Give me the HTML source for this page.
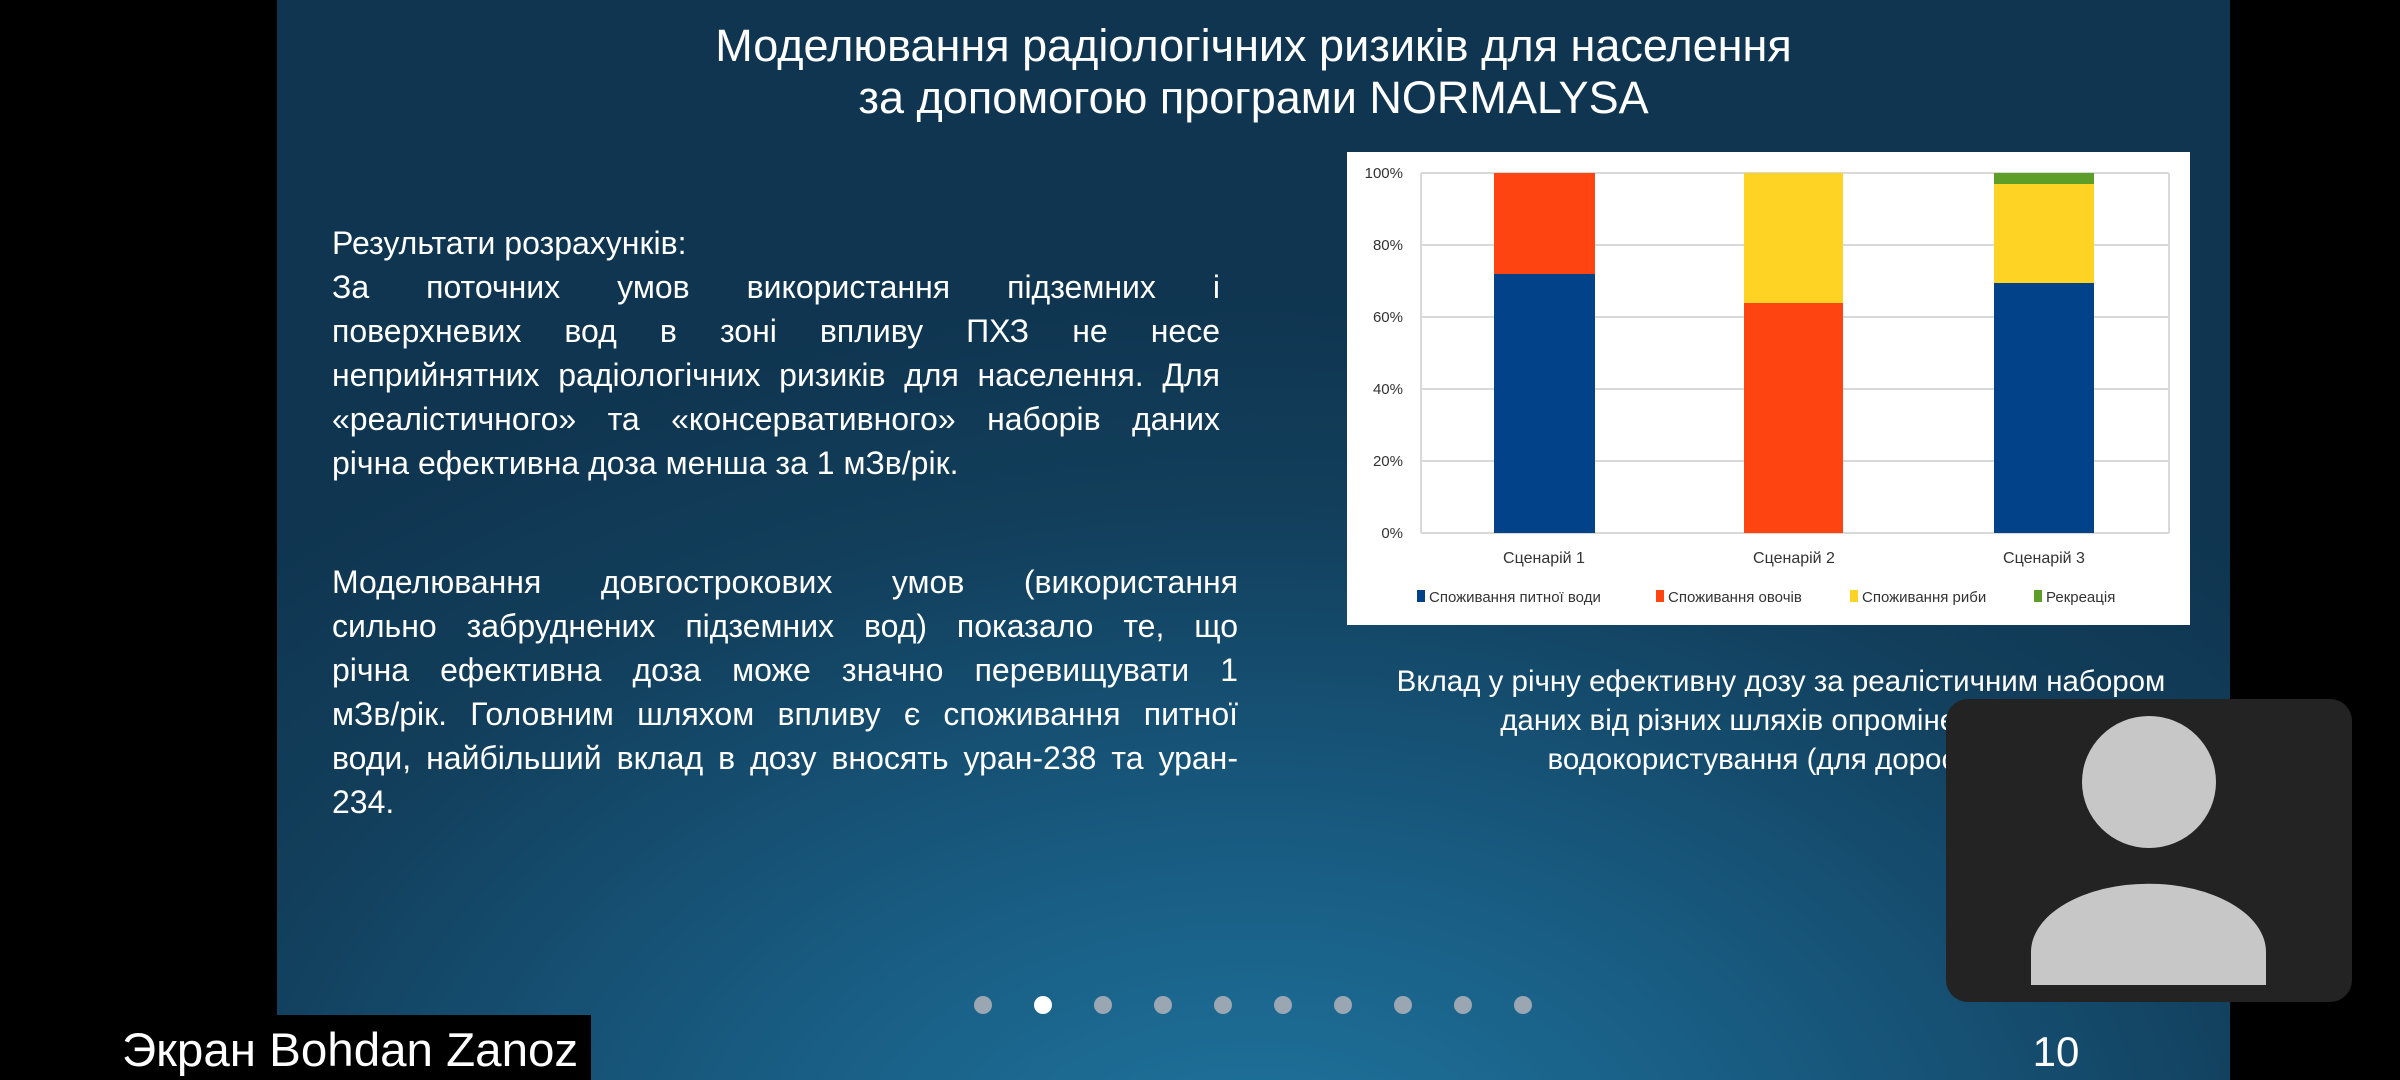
<!DOCTYPE html>
<html><head><meta charset="utf-8"><style>
body{margin:0;width:2400px;height:1080px;background:#000;position:relative;overflow:hidden;font-family:"Liberation Sans","DejaVu Sans",sans-serif;color:#fff}
.slide{position:absolute;left:277px;top:0;width:1953px;height:1080px;background:radial-gradient(ellipse 1400px 900px at 50% 110%,#1f76a0 0%,#185a80 40%,#123f5c 75%,#0f3550 100%)}
.a{position:absolute}
.t{position:absolute;left:277px;width:1953px;text-align:center;font-size:45px;line-height:52px;top:20px}
.p{position:absolute;left:332px;font-size:32px;line-height:44px}
.p div{text-align:justify;text-align-last:justify;white-space:nowrap;height:44px}
.p div.l{text-align-last:left}
.cap{position:absolute;left:1300px;width:962px;text-align:center;font-size:29.5px;line-height:39px;top:662px}
</style></head><body>
<div class="slide"></div>
<div class="t">Моделювання радіологічних ризиків для населення<br>за допомогою програми NORMALYSA</div>
<div class="p" style="top:221px;width:888px">
<div class="l">Результати розрахунків:</div>
<div>За поточних умов використання підземних і</div>
<div>поверхневих вод в зоні впливу ПХЗ не несе</div>
<div>неприйнятних радіологічних ризиків для населення. Для</div>
<div>«реалістичного» та «консервативного» наборів даних</div>
<div class="l">річна ефективна доза менша за 1 мЗв/рік.</div>
</div>
<div class="p" style="top:560px;width:906px">
<div>Моделювання довгострокових умов (використання</div>
<div>сильно забруднених підземних вод) показало те, що</div>
<div>річна ефективна доза може значно перевищувати 1</div>
<div>мЗв/рік. Головним шляхом впливу є споживання питної</div>
<div>води, найбільший вклад в дозу вносять уран-238 та уран-</div>
<div class="l">234.</div>
</div>
<svg class="a" style="left:1347px;top:152px" width="843" height="473" viewBox="1347 152 843 473" font-family="Liberation Sans, sans-serif">
<rect x="1347" y="152" width="843" height="473" fill="#fff"/>
<g stroke="#d9d9d9" stroke-width="2">
<line x1="1421" x2="2169" y1="173" y2="173"/><line x1="1421" x2="2169" y1="245" y2="245"/><line x1="1421" x2="2169" y1="317" y2="317"/><line x1="1421" x2="2169" y1="389" y2="389"/><line x1="1421" x2="2169" y1="461" y2="461"/><line x1="1421" x2="2169" y1="533" y2="533"/><line x1="1421" x2="1421" y1="173" y2="533"/><line x1="2169" x2="2169" y1="173" y2="533"/></g>
<g font-size="15" fill="#333" text-anchor="end"><text x="1403" y="178">100%</text><text x="1403" y="250">80%</text><text x="1403" y="322">60%</text><text x="1403" y="394">40%</text><text x="1403" y="466">20%</text><text x="1403" y="538">0%</text></g>
<rect x="1494" y="274" width="101" height="259" fill="#014289"/><rect x="1494" y="173" width="101" height="101" fill="#fe4511"/>
<rect x="1744" y="303" width="99" height="230" fill="#fe4511"/><rect x="1744" y="173" width="99" height="130" fill="#fed324"/>
<rect x="1994" y="283" width="100" height="250" fill="#014289"/><rect x="1994" y="184" width="100" height="99" fill="#fed324"/><rect x="1994" y="173" width="100" height="11" fill="#5c9e27"/>
<g font-size="16" fill="#333" text-anchor="middle"><text x="1544" y="563">Сценарій 1</text><text x="1794" y="563">Сценарій 2</text><text x="2044" y="563">Сценарій 3</text></g>
<g font-size="15" fill="#333"><rect x="1417" y="590" width="8" height="12" fill="#014289"/><text x="1429" y="602">Споживання питної води</text>
<rect x="1656" y="590" width="8" height="12" fill="#fe4511"/><text x="1668" y="602">Споживання овочів</text>
<rect x="1850" y="590" width="8" height="12" fill="#fed324"/><text x="1862" y="602">Споживання риби</text>
<rect x="2034" y="590" width="8" height="12" fill="#5c9e27"/><text x="2046" y="602">Рекреація</text></g>
</svg>
<div class="cap">Вклад у річну ефективну дозу за реалістичним набором<br>даних від різних шляхів опромінення при<br>водокористування (для дорослих)</div>
<svg class="a" style="left:0;top:0" width="2400" height="1080">
<g fill="#9aa7b2"><circle cx="983" cy="1005" r="9"/><circle cx="1103" cy="1005" r="9"/><circle cx="1163" cy="1005" r="9"/><circle cx="1223" cy="1005" r="9"/><circle cx="1283" cy="1005" r="9"/><circle cx="1343" cy="1005" r="9"/><circle cx="1403" cy="1005" r="9"/><circle cx="1463" cy="1005" r="9"/><circle cx="1523" cy="1005" r="9"/></g>
<circle cx="1043" cy="1005" r="9" fill="#fff"/>
<rect x="1946" y="699" width="406" height="303" rx="22" fill="#232323"/>
<ellipse cx="2149" cy="782" rx="67" ry="66" fill="#c7c7c7"/>
<path d="M2031 985 L2031 952 A117 68 0 0 1 2266 952 L2266 985 Z" fill="#c7c7c7"/>
<rect x="277" y="1015" width="314" height="65" fill="#000"/>
<text x="122" y="1066" font-size="47.5" fill="#fff" font-family="Liberation Sans, sans-serif">Экран Bohdan Zanoz</text>
<text x="2056" y="1066" font-size="42" fill="#fff" text-anchor="middle" font-family="Liberation Sans, sans-serif">10</text>
</svg>
</body></html>
